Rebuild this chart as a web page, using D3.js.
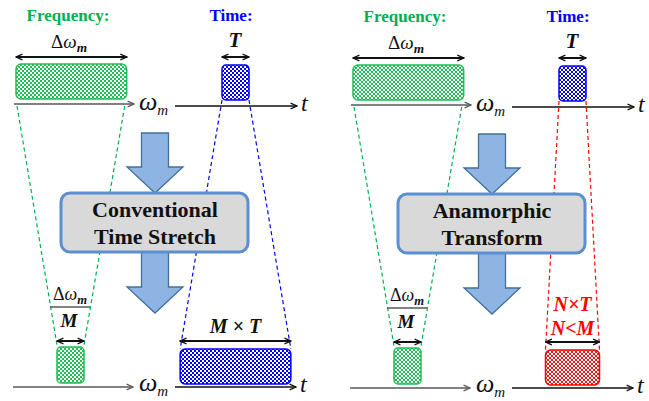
<!DOCTYPE html>
<html><head><meta charset="utf-8">
<script src="https://cdn.jsdelivr.net/npm/d3@7"></script>
</head><body style="margin:0"><svg id="c" width="649" height="401" font-family="Liberation Serif"></svg>
<script>
// ---- data ----
const headers = ["Frequency:", "Time:"];
const headerColors = ["#00b050", "#0000ff"];
const boxLabels = [["Conventional", "Time Stretch"], ["Anamorphic", "Transform"]];
const pulseWidth = 1;              // T (time units)
const bandwidth = 4.1;             // Δω_m in the same drawing units
const compression = [4.1, 4.1];    // M for each panel
const stretch = [4.1, 2.0];        // M (conventional) vs N (anamorphic)
const outLabels = [["M \u00d7 T"], ["N\u00d7T", "N<M"]];
const outColors = ["#0000ff", "#ff0000"];
const outFills = ["blue", "red"];
const panelShift = [0, 337];
const panelDy = [0, 1];

// ---- scales ----
const w = d3.scaleLinear().domain([0, 1]).range([0, 27]);

const svg = d3.select("#c");
const defs = svg.append("defs");
const green = "#00b050";
const FAM = "Liberation Serif";
function checker(id, color) {
  const p = defs.append("pattern").attr("id", id).attr("width", 4).attr("height", 4)
    .attr("patternUnits", "userSpaceOnUse");
  p.append("rect").attr("width", 4).attr("height", 4).attr("fill", "#fff");
  p.append("rect").attr("width", 2).attr("height", 2).attr("fill", color);
  p.append("rect").attr("x", 2).attr("y", 2).attr("width", 2).attr("height", 2).attr("fill", color);
}
checker("green", "#1fbf55");
checker("blue", "#0000ff");
checker("red", "#ff1010");
function marker(id, color) {
  defs.append("marker").attr("id", id).attr("viewBox", "0 0 10 10").attr("refX", 9).attr("refY", 5)
    .attr("markerWidth", 8).attr("markerHeight", 8).attr("markerUnits", "userSpaceOnUse")
    .attr("orient", "auto")
    .append("path").attr("d", "M1,1.5 L9,5 L1,8.5").attr("fill", "none")
    .attr("stroke", color).attr("stroke-width", 1.6);
  defs.append("marker").attr("id", id + "s").attr("viewBox", "0 0 10 10").attr("refX", 1).attr("refY", 5)
    .attr("markerWidth", 8).attr("markerHeight", 8).attr("markerUnits", "userSpaceOnUse")
    .attr("orient", "auto")
    .append("path").attr("d", "M9,1.5 L1,5 L9,8.5").attr("fill", "none")
    .attr("stroke", color).attr("stroke-width", 1.6);
}
marker("ahk", "#111");
marker("ahg", "#595959");

function txt(g, x, y) {
  return g.append("text").attr("x", x).attr("y", y).attr("font-family", FAM);
}
function dbl(g, x0, x1, y) {
  g.append("line").attr("x1", x0).attr("x2", x1).attr("y1", y).attr("y2", y)
    .attr("stroke", "#111").attr("stroke-width", 2)
    .attr("marker-start", "url(#ahks)").attr("marker-end", "url(#ahk)");
}
function axis(g, x0, x1, y, color, mk) {
  g.append("line").attr("x1", x0).attr("x2", x1).attr("y1", y).attr("y2", y)
    .attr("stroke", color).attr("stroke-width", 1.5).attr("marker-end", "url(#" + mk + ")");
}
function omegaLabel(g, x, y) {
  const t = txt(g, x, y).attr("fill", "#111").attr("font-style", "italic").attr("font-size", 26);
  t.append("tspan").attr("font-family", FAM).text("\u03c9");
  t.append("tspan").attr("font-family", FAM).attr("font-size", 15).attr("dy", 5).text("m");
}
function tLabel(g, x, y) {
  txt(g, x, y).attr("font-style", "italic").attr("font-size", 24).attr("fill", "#111").text("t");
}
function dOmega(g, cx, y, size) {
  const t = txt(g, cx, y).attr("text-anchor", "middle").attr("font-size", size).attr("fill", "#111");
  t.append("tspan").attr("font-family", FAM).text("\u0394");
  t.append("tspan").attr("font-family", FAM).attr("font-style", "italic").text("\u03c9");
  t.append("tspan").attr("font-family", FAM).attr("font-style", "italic").attr("font-weight", "bold")
    .attr("font-size", size * 0.7).attr("dy", 4).text("m");
}
function blockArrow(g, cx, top, headY, tip) {
  const sw = w(1) / 2, hw = 28;
  const pts = [[cx - sw, top], [cx + sw, top], [cx + sw, headY], [cx + hw, headY], [cx, tip],
    [cx - hw, headY], [cx - sw, headY]];
  g.append("path").attr("d", d3.line()(pts) + "Z").attr("fill", "#8eb4e3")
    .attr("stroke", "#41719c").attr("stroke-width", 1.3).attr("stroke-linejoin", "miter");
}
function dashed(g, x0, y0, x1, y1, color) {
  g.append("line").attr("x1", x0).attr("y1", y0).attr("x2", x1).attr("y2", y1)
    .attr("stroke", color).attr("stroke-width", 1.2).attr("stroke-dasharray", "4,3");
}

[0, 1].forEach(i => {
  const g = svg.append("g").attr("transform", `translate(${panelShift[i]},${panelDy[i]})`);
  const fx0 = 16, fx1 = fx0 + w(bandwidth);
  const tx0 = 222, tx1 = tx0 + w(pulseWidth);
  const cfx0 = 57, cfx1 = cfx0 + w(bandwidth / compression[i]);
  const ocx = 235.5, ow = w(pulseWidth * stretch[i]);
  const ox0 = ocx - ow / 2, ox1 = ocx + ow / 2;

  dashed(g, fx0 + 1, 106, cfx0, 345, green);
  dashed(g, fx1 - 2, 106, cfx1, 345, green);
  dashed(g, tx0, 100, ox0, 349, outColors[i]);
  dashed(g, tx1, 100, ox1, 349, outColors[i]);

  txt(g, 68, 21).attr("text-anchor", "middle")
    .attr("font-weight", "bold").attr("font-size", 17).attr("fill", headerColors[0]).text(headers[0]);
  txt(g, 231, 21).attr("text-anchor", "middle")
    .attr("font-weight", "bold").attr("font-size", 17).attr("fill", headerColors[1]).text(headers[1]);

  dOmega(g, 69, 48, 19);
  dbl(g, fx0, fx1, 57);
  g.append("rect").attr("x", fx0).attr("y", 64).attr("width", fx1 - fx0).attr("height", 35).attr("rx", 5)
    .attr("fill", "url(#green)").attr("stroke", "#1fbf55").attr("stroke-width", 1.5);
  axis(g, 14, 134, 104, "#595959", "ahg");
  omegaLabel(g, 139, 110);

  txt(g, 235, 47).attr("text-anchor", "middle")
    .attr("font-weight", "bold").attr("font-style", "italic").attr("font-size", 21).attr("fill", "#111").text("T");
  dbl(g, tx0, tx1, 57);
  g.append("rect").attr("x", tx0).attr("y", 65).attr("width", tx1 - tx0).attr("height", 35).attr("rx", 4)
    .attr("fill", "url(#blue)").attr("stroke", "#0000ff").attr("stroke-width", 1.5);
  axis(g, 175, 297, 106, "#111", "ahk");
  tLabel(g, 301, 111);

  blockArrow(g, 155, 133, 167, 193);
  blockArrow(g, 155, 252, 287, 313);
  g.append("rect").attr("x", 61).attr("y", 193).attr("width", 187).attr("height", 59).attr("rx", 9)
    .attr("fill", "#d9d9d9").attr("stroke", "#5b8fd0").attr("stroke-width", 3);
  boxLabels[i].forEach((s, k) => {
    txt(g, 155, 217 + k * 27).attr("text-anchor", "middle")
      .attr("font-weight", "bold").attr("font-size", 22).attr("fill", "#111").text(s);
  });

  dOmega(g, 70, 300, 18);
  g.append("line").attr("x1", 50).attr("x2", 90).attr("y1", 307).attr("y2", 307)
    .attr("stroke", "#595959").attr("stroke-width", 1.5);
  txt(g, 69, 327).attr("text-anchor", "middle")
    .attr("font-weight", "bold").attr("font-style", "italic").attr("font-size", 19).attr("fill", "#111").text("M");
  dbl(g, cfx0, cfx1, 341);
  g.append("rect").attr("x", cfx0).attr("y", 347).attr("width", cfx1 - cfx0).attr("height", 36).attr("rx", 4)
    .attr("fill", "url(#green)").attr("stroke", "#1fbf55").attr("stroke-width", 1.5);
  axis(g, 13, 133, 387, "#595959", "ahg");
  omegaLabel(g, 139, 391);

  outLabels[i].forEach((s, k) => {
    const n = outLabels[i].length;
    txt(g, ocx, n === 1 ? 333 : 310 + k * 24).attr("text-anchor", "middle")
      .attr("font-weight", "bold").attr("font-style", "italic")
      .attr("font-size", 20).attr("fill", i === 0 ? "#111" : outColors[i]).text(s);
  });
  dbl(g, ox0, ox1, 341);
  g.append("rect").attr("x", ox0).attr("y", 349).attr("width", ow).attr("height", 35).attr("rx", 5)
    .attr("fill", "url(#" + outFills[i] + ")").attr("stroke", outColors[i]).attr("stroke-width", 1.5);
  axis(g, 175, 296, 387, "#111", "ahk");
  tLabel(g, 300, 392);
});
</script></body></html>
